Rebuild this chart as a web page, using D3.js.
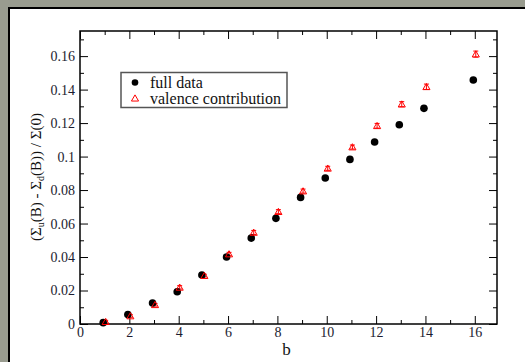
<!DOCTYPE html>
<html>
<head>
<meta charset="utf-8">
<script src="https://cdn.jsdelivr.net/npm/d3@7"></script>
<style>
  body { margin: 0; background: #999c8f; }
  svg { display: block; }
  text { font-family: "Liberation Serif", Tinos, "Times New Roman", "DejaVu Serif", serif; }
  .tick text { font-size: 14px; fill: #1c1c30; }
  .lbl { fill: #111; }
</style>
</head>
<body>
<svg id="chart" width="525" height="362"></svg>
<script>
// b values (no point at b = 15)
const bValues = [1, 2, 3, 4, 5, 6, 7, 8, 9, 10, 11, 12, 13, 14, 16]
const fullData = [0.0008, 0.0056, 0.0125, 0.0193, 0.0293, 0.0400, 0.0513, 0.0631, 0.0756,
                  0.0872, 0.0983, 0.1087, 0.1190, 0.1288, 0.1457]
const valence = [0.0014, 0.0048, 0.0115, 0.0219, 0.0289, 0.0418, 0.0547, 0.0671, 0.0794,
                 0.0930, 0.1057, 0.1184, 0.1313, 0.1417, 0.1612]
const valenceErr = [0.0008, 0.0008, 0.0008, 0.0010, 0.0008, 0.0010, 0.0012, 0.0012, 0.0012,
                    0.0012, 0.0012, 0.0014, 0.0015, 0.0016, 0.0018]
const xTicks = [0, 2, 4, 6, 8, 10, 12, 14, 16]
const yTicks = [0, 0.02, 0.04, 0.06, 0.08, 0.1, 0.12, 0.14, 0.16]
const legendLabels = ["full data", "valence contribution"]

const serif = '"Liberation Serif", Tinos, "Times New Roman", "DejaVu Serif", serif'
const svg = d3.select("#chart")
const pLeft = 80, pRight = 497, pTop = 31, pBottom = 324

// page panel
svg.append("rect").attr("width", 525).attr("height", 362).attr("fill", "#999c8f")
svg.append("rect").attr("x", 9).attr("y", 8).attr("width", 540).attr("height", 370)
   .attr("fill", "#fff").attr("stroke", "#000").attr("stroke-width", 2)

let x = d3.scaleLinear().domain([0, 16.9]).range([pLeft, pRight])
let y = d3.scaleLinear().domain([0, 0.175]).range([pBottom, pTop])

function noDomain(g) { g.select(".domain").remove(); g.attr("font-family", serif).attr("font-size", 14) }
const minorX = d3.range(1, 17, 2)
const minorY = d3.range(0.01, 0.175, 0.02)

// major + minor ticks on all sides, pointing inward
svg.append("g").attr("transform", `translate(0,${pBottom})`)
   .call(d3.axisBottom(x).tickValues(xTicks).tickSize(-8).tickPadding(3).tickFormat(d3.format("d")))
   .call(noDomain)
svg.append("g").attr("transform", `translate(0,${pBottom})`)
   .call(d3.axisBottom(x).tickValues(minorX).tickSize(-4).tickFormat(""))
   .call(noDomain)
svg.append("g").attr("transform", `translate(0,${pTop})`)
   .call(d3.axisTop(x).tickValues(xTicks).tickSize(-8).tickFormat(""))
   .call(noDomain)
svg.append("g").attr("transform", `translate(0,${pTop})`)
   .call(d3.axisTop(x).tickValues(minorX).tickSize(-4).tickFormat(""))
   .call(noDomain)

svg.append("g").attr("transform", `translate(${pLeft},0)`)
   .call(d3.axisLeft(y).tickValues(yTicks).tickSize(-8).tickPadding(5).tickFormat(d => String(+d.toFixed(2))))
   .call(noDomain)
svg.append("g").attr("transform", `translate(${pLeft},0)`)
   .call(d3.axisLeft(y).tickValues(minorY).tickSize(-4).tickFormat(""))
   .call(noDomain)
svg.append("g").attr("transform", `translate(${pRight},0)`)
   .call(d3.axisRight(y).tickValues(yTicks).tickSize(-8).tickFormat(""))
   .call(noDomain)
svg.append("g").attr("transform", `translate(${pRight},0)`)
   .call(d3.axisRight(y).tickValues(minorY).tickSize(-4).tickFormat(""))
   .call(noDomain)

svg.selectAll(".tick line").attr("stroke", "#000")

// frame
svg.append("rect").attr("x", pLeft).attr("y", pTop)
   .attr("width", pRight - pLeft).attr("height", pBottom - pTop)
   .attr("fill", "none").attr("stroke", "#000").attr("stroke-width", 1.5)

// data: the two sets are dodged a little along b
const dodgeFull = -0.06, dodgeVal = 0.04
const tri = d3.symbol().type(d3.symbolTriangle).size(22)

let errG = svg.append("g").attr("stroke", "#ff0000").attr("stroke-width", 1)
valence.forEach(function (v, i) {
    let cx = x(bValues[i] + dodgeVal)
    errG.append("line").attr("x1", cx).attr("x2", cx)
        .attr("y1", y(v - valenceErr[i])).attr("y2", y(v + valenceErr[i]))
    errG.append("line").attr("x1", cx - 2.5).attr("x2", cx + 2.5)
        .attr("y1", y(v - valenceErr[i])).attr("y2", y(v - valenceErr[i]))
    errG.append("line").attr("x1", cx - 2.5).attr("x2", cx + 2.5)
        .attr("y1", y(v + valenceErr[i])).attr("y2", y(v + valenceErr[i]))
})

svg.selectAll(".full").data(fullData).enter().append("circle")
   .attr("class", "full")
   .attr("cx", (d, i) => x(bValues[i] + dodgeFull))
   .attr("cy", d => y(d))
   .attr("r", 3.8)
   .attr("fill", "#000")

svg.selectAll(".val").data(valence).enter().append("path")
   .attr("class", "val")
   .attr("d", tri)
   .attr("transform", (d, i) => `translate(${x(bValues[i] + dodgeVal)},${y(d) + 0.8})`)
   .attr("fill", "none").attr("stroke", "#ff0000").attr("stroke-width", 1)

// legend
let lg = svg.append("g")
lg.append("rect").attr("x", 121).attr("y", 72.5).attr("width", 166).attr("height", 35)
  .attr("fill", "#fff").attr("stroke", "#555").attr("stroke-width", 1.5)
lg.append("circle").attr("cx", 135).attr("cy", 82.5).attr("r", 3.3).attr("fill", "#000")
lg.append("path").attr("d", tri).attr("transform", "translate(135,99)")
  .attr("fill", "none").attr("stroke", "#ff0000")
legendLabels.forEach(function (t, i) {
    lg.append("text").attr("class", "lbl").attr("x", 150).attr("y", 88 + i * 16)
      .attr("font-family", serif).style("font-size", "16px").text(t)
})

// axis labels
svg.append("text").attr("class", "lbl").attr("x", (pLeft + pRight) / 2 - 2).attr("y", 355)
   .attr("font-family", serif)
   .attr("text-anchor", "middle").style("font-size", "17px").text("b")

let yl = svg.append("text").attr("class", "lbl")
   .attr("transform", "translate(41,177) rotate(-90)")
   .attr("font-family", serif)
   .attr("text-anchor", "middle").style("font-size", "15px")
yl.append("tspan").text("(Σ")
yl.append("tspan").attr("baseline-shift", "-30%").style("font-size", "10px").text("u")
yl.append("tspan").text("(B) - Σ")
yl.append("tspan").attr("baseline-shift", "-30%").style("font-size", "10px").text("d")
yl.append("tspan").text("(B)) / Σ(0)")
</script>
</body>
</html>
